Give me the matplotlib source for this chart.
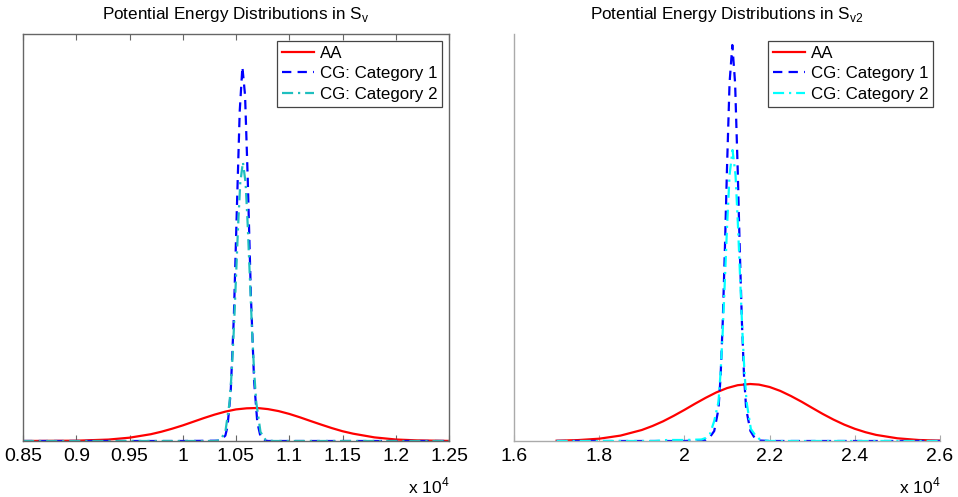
import matplotlib
matplotlib.use("Agg")
import matplotlib.pyplot as plt

plt.rcParams['font.family'] = ['Liberation Sans', 'DejaVu Sans']
plt.rcParams['mathtext.fontset'] = 'custom'
plt.rcParams['mathtext.rm'] = 'Liberation Sans'

# energies in units of 1e4, densities in units of 1e-3
# --- S_v ---
sv_x_aa = [0.85, 0.90, 0.93, 0.95, 0.97, 0.98, 0.99, 1.00, 1.01, 1.02, 1.03, 1.04, 1.05, 1.06,
           1.07, 1.08, 1.09, 1.10, 1.11, 1.12, 1.13, 1.14, 1.15, 1.16, 1.18, 1.20, 1.22, 1.25]
sv_aa = [0.000, 0.007, 0.032, 0.075, 0.154, 0.211, 0.279, 0.354, 0.438, 0.522, 0.600, 0.667, 0.717, 0.742,
         0.749, 0.724, 0.679, 0.615, 0.538, 0.454, 0.372, 0.293, 0.222, 0.166, 0.082, 0.034, 0.014, 0.002]

sv_x_cg1 = [0.85, 1.00, 1.035, 1.040, 1.042, 1.045, 1.048, 1.051, 1.0535, 1.056, 1.0585, 1.061,
            1.064, 1.067, 1.070, 1.073, 1.076, 1.08, 1.25]
sv_cg1 = [0.0, 0.0, 0.007, 0.123, 0.325, 1.10, 2.83, 5.43, 7.49, 8.49, 7.85, 5.97,
          3.29, 1.36, 0.427, 0.100, 0.018, 0.0, 0.0]

sv_x_cg2 = [0.85, 1.00, 1.03, 1.035, 1.040, 1.044, 1.046, 1.048, 1.050, 1.052, 1.054, 1.0565,
            1.059, 1.061, 1.063, 1.065, 1.067, 1.069, 1.073, 1.078, 1.085, 1.25]
sv_cg2 = [0.0, 0.0, 0.0, 0.018, 0.204, 0.885, 1.58, 2.54, 3.72, 4.90, 5.86, 6.33,
          5.86, 4.90, 3.72, 2.54, 1.58, 0.885, 0.204, 0.018, 0.0, 0.0]

# --- S_v2 ---
sv2_x_aa = [1.70, 1.75, 1.80, 1.85, 1.90, 1.925, 1.95, 1.975, 2.00, 2.025, 2.05, 2.075, 2.10, 2.125,
            2.154, 2.175, 2.20, 2.225, 2.25, 2.275, 2.30, 2.325, 2.35, 2.375, 2.40, 2.425, 2.45,
            2.50, 2.55, 2.60]
sv2_aa = [0.0015, 0.0045, 0.0115, 0.027, 0.055, 0.075, 0.0985, 0.126, 0.1555, 0.1865, 0.216, 0.243,
          0.2645, 0.279, 0.285, 0.282, 0.27, 0.2505, 0.225, 0.1965, 0.1655, 0.135, 0.107, 0.082,
          0.061, 0.044, 0.0305, 0.0135, 0.005, 0.002]

sv2_x_cg1 = [1.70, 2.00, 2.05, 2.06, 2.07, 2.08, 2.085, 2.09, 2.095, 2.10, 2.106, 2.1125, 2.119,
             2.125, 2.13, 2.135, 2.14, 2.145, 2.155, 2.165, 2.175, 2.20, 2.60]
sv2_cg1 = [0.0, 0.0, 0.005, 0.02, 0.05, 0.16, 0.325, 0.595, 0.955, 1.365, 1.79, 1.98, 1.79,
           1.365, 0.955, 0.595, 0.325, 0.16, 0.05, 0.015, 0.0025, 0.0, 0.0]

sv2_x_cg2 = [1.70, 1.93, 1.96, 2.00, 2.04, 2.05, 2.06, 2.07, 2.08, 2.085, 2.09, 2.095, 2.10, 2.106,
             2.113, 2.12, 2.126, 2.131, 2.136, 2.141, 2.146, 2.156, 2.166, 2.176, 2.186, 2.20, 2.60]
sv2_cg2 = [0.0, 0.0, 0.005, 0.005, 0.0075, 0.015, 0.035, 0.1, 0.195, 0.345, 0.55, 0.805, 1.065, 1.33,
           1.455, 1.33, 1.065, 0.805, 0.55, 0.345, 0.195, 0.06, 0.03, 0.01, 0.0025, 0.0, 0.0]

labels = ['AA', 'CG: Category 1', 'CG: Category 2']

dashed = (0, (4.2, 2.8))
dashdot = (0, (5, 2.2, 1, 2.2))

fig = plt.figure(figsize=(9.58, 4.97), dpi=100)
ax1 = fig.add_axes([23 / 958, 56 / 497, 426 / 958, 407 / 497])
ax2 = fig.add_axes([514 / 958, 56 / 497, 426 / 958, 407 / 497])

# left panel: boxed axes
ax1.plot(sv_x_aa, sv_aa, color='red', lw=1.6, label=labels[0])
ax1.plot(sv_x_cg1, sv_cg1, color='blue', lw=1.6, ls=dashed, label=labels[1])
ax1.plot(sv_x_cg2, sv_cg2, color='#1fbfbf', lw=1.6, ls=dashdot, label=labels[2])
ax1.set_xlim(0.85, 1.25)
ax1.set_ylim(0, 9.24)
ax1.set_xticks([0.85, 0.9, 0.95, 1, 1.05, 1.1, 1.15, 1.2, 1.25])
ax1.set_xticklabels(['0.85', '0.9', '0.95', '1', '1.05', '1.1', '1.15', '1.2', '1.25'])
ax1.set_yticks([])
ax1.tick_params(axis='x', direction='in', length=4, top=True, color='#666666', labelsize=14, pad=5)
for s in ax1.spines.values():
    s.set_color('#666666')
    s.set_linewidth(1)
ax1.set_title(r'Potential Energy Distributions in S$_\mathregular{v}$', fontsize=12.3, pad=11)

# right panel: box off
ax2.plot(sv2_x_aa, sv2_aa, color='red', lw=1.6, label=labels[0])
ax2.plot(sv2_x_cg1, sv2_cg1, color='blue', lw=1.6, ls=dashed, label=labels[1])
ax2.plot(sv2_x_cg2, sv2_cg2, color='cyan', lw=1.6, ls=dashdot, label=labels[2])
ax2.set_xlim(1.6, 2.6)
ax2.set_ylim(0, 2.035)
ax2.set_xticks([1.6, 1.8, 2.0, 2.2, 2.4, 2.6])
ax2.set_xticklabels(['1.6', '1.8', '2', '2.2', '2.4', '2.6'])
ax2.set_yticks([])
ax2.spines['top'].set_visible(False)
ax2.spines['right'].set_visible(False)
for s in ['left', 'bottom']:
    ax2.spines[s].set_color('#aaaaaa')
    ax2.spines[s].set_linewidth(1)
ax2.tick_params(axis='x', direction='in', length=4, color='#aaaaaa', labelsize=14, pad=5)
ax2.set_title(r'Potential Energy Distributions in S$_\mathregular{v2}$', fontsize=12.3, pad=11)

for ax in (ax1, ax2):
    leg = ax.legend(loc='upper right', fontsize=12.2, handlelength=1.9, handletextpad=0.3,
                    labelspacing=0.32, borderaxespad=0.4, borderpad=0.3, fancybox=False,
                    framealpha=1, edgecolor='#444444')
    leg.get_frame().set_linewidth(0.9)
    ax.text(1.0, -0.11, r'x 10$^\mathregular{4}$', transform=ax.transAxes,
            ha='right', va='center', fontsize=12.5)

fig.savefig('out.png', dpi=100)
